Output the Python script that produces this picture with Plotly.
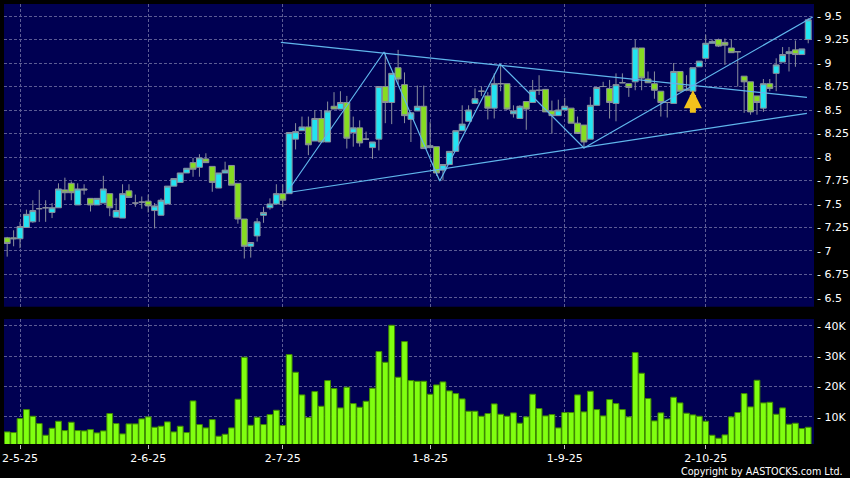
import plotly.graph_objects as go

# ---------------- data ----------------
opens = [7.14, 7.14, 7.13, 7.25, 7.31, 7.45, 7.46, 7.41, 7.46, 7.65,
         7.72, 7.49, 7.66, 7.56, 7.49, 7.51, 7.61, 7.36, 7.35, 7.64,
         7.51, 7.52, 7.53, 7.43, 7.38, 7.50, 7.69, 7.73, 7.83, 7.94,
         7.89, 7.98, 7.90, 7.67, 7.83, 7.91, 7.72, 7.34, 7.05, 7.16,
         7.38, 7.46, 7.50, 7.61, 7.61, 8.19, 8.28, 8.32, 8.17, 8.41,
         8.16, 8.54, 8.51, 8.58, 8.26, 8.31, 8.19, 8.10, 8.19, 8.75,
         8.58, 8.95, 8.77, 8.40, 8.49, 8.54, 8.10, 8.11, 7.86, 7.92,
         8.06, 8.28, 8.38, 8.57, 8.70, 8.65, 8.52, 8.78, 8.78, 8.46,
         8.41, 8.59, 8.58, 8.71, 8.72, 8.49, 8.44, 8.50, 8.52, 8.36,
         8.34, 8.19, 8.55, 8.75, 8.73, 8.57, 8.79, 8.78, 8.80, 9.16,
         8.83, 8.78, 8.70, 8.58, 8.57, 8.91, 8.71, 8.70, 8.96, 9.05,
         9.21, 9.25, 9.22, 9.16, 9.12, 8.86, 8.80, 8.65, 8.52, 8.78,
         8.89, 9.01, 9.10, 9.14, 9.09, 9.25]
highs = [7.15, 7.22, 7.31, 7.44, 7.54, 7.65, 7.54, 7.51, 7.72, 7.78,
         7.74, 7.72, 7.71, 7.56, 7.56, 7.80, 7.61, 7.56, 7.71, 7.71,
         7.60, 7.58, 7.60, 7.51, 7.56, 7.69, 7.77, 7.83, 7.88, 7.99,
         8.03, 8.04, 7.90, 7.83, 7.95, 7.91, 7.72, 7.34, 7.09, 7.35,
         7.47, 7.56, 7.71, 7.71, 8.26, 8.36, 8.43, 8.43, 8.50, 8.50,
         8.59, 8.69, 8.70, 8.65, 8.43, 8.39, 8.27, 8.16, 8.75, 9.11,
         8.89, 9.14, 8.90, 8.47, 8.76, 8.76, 8.37, 8.11, 7.92, 8.06,
         8.28, 8.55, 8.55, 8.73, 8.75, 8.69, 8.89, 8.99, 8.78, 8.55,
         8.55, 8.59, 8.82, 8.87, 8.72, 8.60, 8.61, 8.63, 8.52, 8.43,
         8.34, 8.64, 8.74, 8.80, 8.82, 8.89, 8.89, 8.78, 9.25, 9.16,
         8.91, 8.91, 8.70, 8.58, 9.00, 8.91, 8.87, 8.95, 9.02, 9.30,
         9.25, 9.26, 9.26, 9.25, 9.12, 8.86, 8.80, 8.65, 8.83, 8.83,
         9.05, 9.17, 9.17, 9.24, 9.15, 9.48]
lows = [6.94, 7.05, 7.03, 7.25, 7.30, 7.31, 7.31, 7.35, 7.46, 7.54,
        7.54, 7.49, 7.60, 7.42, 7.49, 7.51, 7.37, 7.36, 7.35, 7.57,
        7.47, 7.45, 7.41, 7.24, 7.38, 7.50, 7.69, 7.73, 7.83, 7.79,
        7.79, 7.94, 7.63, 7.67, 7.83, 7.70, 7.29, 6.92, 6.93, 7.10,
        7.30, 7.44, 7.50, 7.47, 7.61, 8.08, 8.28, 8.02, 8.17, 8.16,
        8.16, 8.51, 8.51, 8.09, 8.11, 8.11, 8.18, 7.98, 8.07, 8.36,
        8.35, 8.77, 8.36, 8.16, 8.49, 8.09, 8.09, 7.80, 7.75, 7.92,
        8.06, 8.28, 8.38, 8.57, 8.65, 8.40, 8.41, 8.70, 8.50, 8.42,
        8.41, 8.29, 8.58, 8.66, 8.48, 8.25, 8.44, 8.50, 8.36, 8.25,
        8.09, 8.19, 8.55, 8.75, 8.41, 8.38, 8.79, 8.64, 8.71, 8.71,
        8.79, 8.62, 8.43, 8.42, 8.57, 8.70, 8.70, 8.70, 8.96, 9.05,
        9.21, 9.17, 8.98, 9.11, 8.75, 8.47, 8.45, 8.45, 8.48, 8.70,
        8.70, 9.01, 8.91, 8.96, 9.09, 9.21]
closes = [7.08, 7.13, 7.26, 7.39, 7.43, 7.45, 7.46, 7.46, 7.66, 7.62,
          7.62, 7.66, 7.65, 7.49, 7.56, 7.66, 7.46, 7.43, 7.61, 7.57,
          7.51, 7.52, 7.48, 7.48, 7.54, 7.69, 7.77, 7.83, 7.88, 7.87,
          7.99, 7.94, 7.73, 7.83, 7.86, 7.70, 7.34, 7.05, 7.09, 7.31,
          7.41, 7.50, 7.61, 7.54, 8.26, 8.27, 8.32, 8.13, 8.41, 8.16,
          8.49, 8.51, 8.58, 8.20, 8.31, 8.15, 8.19, 8.16, 8.75, 8.58,
          8.89, 8.83, 8.44, 8.47, 8.54, 8.09, 8.12, 7.83, 7.92, 8.06,
          8.28, 8.35, 8.50, 8.62, 8.70, 8.52, 8.78, 8.78, 8.51, 8.49,
          8.54, 8.51, 8.71, 8.71, 8.48, 8.44, 8.50, 8.54, 8.36, 8.25,
          8.16, 8.55, 8.74, 8.75, 8.58, 8.77, 8.79, 8.74, 9.16, 8.84,
          8.79, 8.71, 8.58, 8.58, 8.91, 8.70, 8.72, 8.95, 9.02, 9.21,
          9.23, 9.18, 9.19, 9.11, 9.12, 8.80, 8.48, 8.58, 8.78, 8.73,
          8.98, 9.09, 9.12, 9.09, 9.15, 9.46]
volumes_k = [4.96, 4.74, 9.37, 12.35, 10.14, 7.72, 3.86, 6.17, 8.49, 5.40,
             8.16, 5.40, 5.29, 5.73, 4.63, 5.29, 11.03, 7.72, 4.30, 7.61,
             7.61, 9.26, 9.92, 6.50, 6.84, 8.27, 4.96, 6.84, 4.74, 15.21,
             7.39, 6.28, 9.04, 3.53, 4.19, 6.28, 15.77, 29.66, 7.17, 9.81,
             7.39, 10.69, 12.13, 7.06, 30.54, 24.70, 17.20, 9.70, 18.30, 13.45,
             21.94, 19.29, 12.90, 19.74, 14.33, 13.12, 15.10, 19.40, 31.53, 28.00,
             40.24, 23.04, 34.84, 21.94, 21.72, 21.72, 17.42, 20.50, 21.50, 18.52,
             17.64, 15.88, 11.80, 11.80, 10.14, 11.03, 14.22, 10.80, 10.14, 11.25,
             7.83, 9.92, 17.42, 12.68, 10.25, 10.69, 6.28, 11.36, 11.36, 17.20,
             11.58, 18.41, 12.35, 10.25, 15.66, 14.33, 12.35, 9.92, 31.20, 24.37,
             15.99, 8.60, 11.25, 9.26, 16.43, 14.55, 11.14, 10.58, 10.14, 8.49,
             3.86, 2.87, 3.97, 9.92, 11.36, 17.64, 13.23, 22.05, 14.55, 14.77,
             10.80, 12.90, 7.50, 7.83, 6.06, 6.50]

date_tick_pos = [2, 22, 43, 66, 87, 109]
date_tick_text = ["2-5-25", "2-6-25", "2-7-25", "1-8-25", "1-9-25", "2-10-25"]

price_ticks = [6.5, 6.75, 7, 7.25, 7.5, 7.75, 8, 8.25, 8.5, 8.75, 9, 9.25, 9.5]
price_tick_text = ["6.5", "6.75", "7", "7.25", "7.5", "7.75", "8", "8.25", "8.5",
                   "8.75", "9", "9.25", "9.5"]
vol_ticks = [10000, 20000, 30000, 40000]
vol_tick_text = ["10K", "20K", "30K", "40K"]

# trend lines (bar index, price)
upper_line_x = [42.7, 124.8]
upper_line_y = [9.22, 8.635]
lower_line_x = [43.6, 124.8]
lower_line_y = [7.62, 8.465]
zigzag_x = [43.6, 58.8, 67.5, 76.9, 90.0, 125.7]
zigzag_y = [7.62, 9.117, 7.745, 8.99, 8.096, 9.49]

signal_bar = 107
signal_price = 8.71

# ---------------- figure ----------------
idx = list(range(len(closes)))
volumes = [v * 1000 for v in volumes_k]

GRID = "#5c5c94"
LINE = "#60b6ec"
FONT = dict(family="DejaVu Sans", size=11, color="#ffffff")

fig = go.Figure()

fig.add_trace(go.Candlestick(
    x=idx, open=opens, high=highs, low=lows, close=closes,
    increasing=dict(fillcolor="#22e4f2", line=dict(color="#8a8f9c", width=1)),
    decreasing=dict(fillcolor="#86dc22", line=dict(color="#8a8f9c", width=1)),
    whiskerwidth=0, xaxis="x", yaxis="y", hoverinfo="skip", showlegend=False))

for lx, ly in [(upper_line_x, upper_line_y), (lower_line_x, lower_line_y), (zigzag_x, zigzag_y)]:
    fig.add_trace(go.Scatter(x=lx, y=ly, mode="lines", line=dict(color=LINE, width=1.2),
                             xaxis="x", yaxis="y", hoverinfo="skip", showlegend=False))

fig.add_trace(go.Bar(
    x=idx, y=volumes, marker=dict(color="#80ff10", line=dict(color="#3f8a00", width=1)),
    xaxis="x2", yaxis="y2", hoverinfo="skip", showlegend=False))

fig.add_annotation(x=signal_bar, y=signal_price, xref="x", yref="y", ax=0, ay=24,
                   showarrow=True, arrowhead=2, arrowsize=0.6, arrowwidth=6,
                   arrowcolor="#f2c21c", text="")

fig.add_annotation(text="Copyright by AASTOCKS.com Ltd.", xref="paper", yref="paper",
                   x=1.038, y=-0.062, xanchor="right", yanchor="middle",
                   showarrow=False, font=dict(family="DejaVu Sans", size=9.6, color="#ffffff"))

xcommon = dict(range=[-0.5, 125.9], tickvals=date_tick_pos, showgrid=True, gridcolor=GRID,
               griddash="3px,2px", gridwidth=1, zeroline=False, showline=False,
               fixedrange=True, automargin=False)

fig.update_layout(
    width=850, height=478,
    margin=dict(l=4, r=36, t=4, b=34, autoexpand=False),
    paper_bgcolor="#000000", plot_bgcolor="#000052",
    font=FONT,
    boxgap=0.08, boxgroupgap=0.0, bargap=0.1,
    xaxis=dict(domain=[0, 1], anchor="y", showticklabels=False, ticks="",
               rangeslider=dict(visible=False), **xcommon),
    xaxis2=dict(domain=[0, 1], anchor="y2", ticktext=date_tick_text, ticks="outside",
                ticklen=4, tickcolor="#c0c0c0", tickfont=FONT, **xcommon),
    yaxis=dict(domain=[0.312, 1], anchor="x", side="right", range=[6.407, 9.628],
               tickvals=price_ticks, ticktext=["- " + t for t in price_tick_text],
               ticklabelstandoff=2,
               showgrid=True, gridcolor=GRID, griddash="3px,2px", zeroline=False,
               ticks="", tickfont=FONT, fixedrange=True, automargin=False),
    yaxis2=dict(domain=[0, 0.284], anchor="x2", side="right", range=[960, 42300],
                tickvals=vol_ticks, ticktext=["- " + t for t in vol_tick_text],
                ticklabelstandoff=2,
                showgrid=True, gridcolor=GRID, griddash="3px,2px", zeroline=False,
                ticks="", tickfont=FONT, fixedrange=True, automargin=False),
)

fig.write_html("out.html", config={"displayModeBar": False},
               post_script="document.body.style.margin='0px';document.body.style.background='#000';")
